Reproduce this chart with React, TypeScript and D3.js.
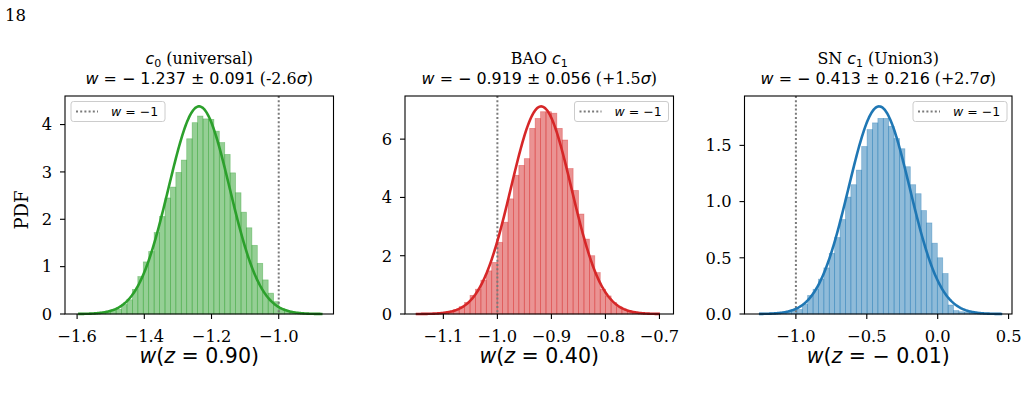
import { scaleLinear, line, max, range, format } from "d3";

// posterior samples of w at three redshifts, histogram heights
const colors = ["#2ca02c", "#d62728", "#1f77b4"];
const means = [-1.237, -0.919, -0.413];
const sigmas = [0.091, 0.056, 0.216];
const meanLabels = ["1.237", "0.919", "0.413"];
const sigmaLabels = ["0.091", "0.056", "0.216"];
const tensionLabels = ["-2.6", "+1.5", "+2.7"];
const zLabels = ["0.90", "0.40", "− 0.01"];

const binStarts = [-1.597, -1.151, -1.26];
const binWidths = [0.01616, 0.01004, 0.0381];

const c0Bins = [
  0.005, 0.01, 0.015, 0.02, 0.04, 0.06, 0.08, 0.1, 0.2, 0.3, 0.52, 0.79, 1.1, 1.32, 1.72,
  2.06, 2.45, 2.68, 2.99, 3.25, 3.7, 4.04, 4.18, 4.12, 4.11, 3.86, 3.62, 3.37, 2.98, 2.56,
  2.15, 1.82, 1.45, 1.07, 0.72, 0.44, 0.26, 0.12, 0.05, 0.03, 0.015, 0.01, 0.005, 0.004, 0.003,
];
const baoBins = [
  0.005, 0.01, 0.015, 0.02, 0.035, 0.05, 0.08, 0.15, 0.25, 0.4, 0.64, 0.85, 1.16, 1.48, 1.77,
  2.46, 3.15, 3.95, 4.76, 5.1, 5.33, 6.37, 6.71, 6.94, 6.94, 6.89, 6.37, 5.97, 4.99, 4.24,
  3.43, 2.57, 2.0, 1.42, 0.85, 0.62, 0.39, 0.25, 0.15, 0.09, 0.05, 0.03, 0.02, 0.01, 0.005,
];
const snBins = [
  0.003, 0.005, 0.008, 0.01, 0.015, 0.02, 0.03, 0.04, 0.085, 0.165, 0.22, 0.31, 0.41, 0.54, 0.68,
  0.84, 1.04, 1.15, 1.28, 1.49, 1.64, 1.7, 1.74, 1.74, 1.67, 1.56, 1.47, 1.31, 1.15, 1.07,
  0.92, 0.81, 0.63, 0.5, 0.36, 0.08, 0.03, 0.02, 0.015, 0.01, 0.008, 0.005, 0.004, 0.003, 0.002,
];
const allBins = [c0Bins, baoBins, snBins];

const xDomains = [
  [-1.636, -0.837],
  [-1.171, -0.674],
  [-1.3625, 0.524],
];
const xTicks = [
  [-1.6, -1.4, -1.2, -1.0],
  [-1.1, -1.0, -0.9, -0.8, -0.7],
  [-1.0, -0.5, 0.0, 0.5],
];
const yTicks = [
  [0, 1, 2, 3, 4],
  [0, 2, 4, 6],
  [0, 0.5, 1.0, 1.5],
];
const yFormats = [".0f", ".0f", ".1f"];
const legendOnLeft = [true, false, false];
const refW = -1;

const SERIF = "'DejaVu Serif', serif";
const SANS = "'DejaVu Sans', sans-serif";

const lefts = [65, 405, 744.5];
const widths = [268.5, 268.5, 267.5];
const top = 96;
const bottom = 314;
const tickFont = 16.3;
const titleFont = 15.9;

function pdf(x: number, mu: number, s: number) {
  return Math.exp(-0.5 * ((x - mu) / s) ** 2) / (s * Math.sqrt(2 * Math.PI));
}

function Title({ i, cx }: { i: number; cx: number }) {
  const sub = i === 0 ? "0" : "1";
  const cText = (
    <>
      <tspan fontFamily={SANS} fontStyle="italic">c</tspan>
      <tspan fontFamily={SANS} fontSize={11} dy={3}>{sub}</tspan>
    </>
  );
  return (
    <g>
      <text x={cx} y={64} textAnchor="middle" fontSize={titleFont} fontFamily={SERIF}>
        {i === 0 && (
          <>
            {cText}
            <tspan dy={-3}> (universal)</tspan>
          </>
        )}
        {i === 1 && (
          <>
            <tspan>BAO </tspan>
            {cText}
          </>
        )}
        {i === 2 && (
          <>
            <tspan>SN </tspan>
            {cText}
            <tspan dy={-3}> (Union3)</tspan>
          </>
        )}
      </text>
      <text x={cx} y={83.5} textAnchor="middle" fontSize={titleFont} fontFamily={SANS}>
        <tspan fontStyle="italic">w</tspan>
        <tspan>{` = − ${meanLabels[i]} ± ${sigmaLabels[i]}`}</tspan>
        <tspan fontFamily={SERIF}>{` (${tensionLabels[i]}`}</tspan>
        <tspan fontStyle="italic">σ</tspan>
        <tspan fontFamily={SERIF}>)</tspan>
      </text>
    </g>
  );
}

function Panel({ i }: { i: number }) {
  const bins = allBins[i];
  const left = lefts[i];
  const right = left + widths[i];
  const x = scaleLinear().domain(xDomains[i]).range([left, right]);
  const start = binStarts[i];
  const bw = binWidths[i];
  const end = start + bins.length * bw;
  const peak = pdf(means[i], means[i], sigmas[i]);
  const ymax = 1.05 * Math.max(peak, max(bins) ?? 0);
  const y = scaleLinear().domain([0, ymax]).range([bottom, top]);
  const curvePts = range(0, 301).map((k) => start + ((end - start) * k) / 300);
  const path = line<number>()
    .x((d) => x(d))
    .y((d) => y(pdf(d, means[i], sigmas[i])))(curvePts);
  const color = colors[i];
  const yf = format(yFormats[i]);
  const xf = format(".1f");
  const cx = (left + right) / 2;
  const legW = 94;
  const legH = 20;
  const legX = legendOnLeft[i] ? left + 6 : right - 5 - legW;
  const legY = top + 5.5;

  return (
    <g>
      <Title i={i} cx={cx} />
      {/* histogram */}
      {bins.map((v, k) => {
        const x0 = x(start + k * bw);
        const x1 = x(start + (k + 1) * bw);
        return (
          <rect
            key={k}
            x={x0}
            y={y(v)}
            width={x1 - x0}
            height={bottom - y(v)}
            fill={color}
            fillOpacity={0.5}
            stroke={color}
            strokeOpacity={0.45}
            strokeWidth={0.7}
          />
        );
      })}
      <line
        x1={x(refW)}
        x2={x(refW)}
        y1={top}
        y2={bottom}
        stroke="#7a7a7a"
        strokeWidth={2}
        strokeDasharray="2 2.2"
      />
      <path d={path ?? ""} fill="none" stroke={color} strokeWidth={2.6} />
      {/* frame */}
      <rect x={left} y={top} width={right - left} height={bottom - top} fill="none" stroke="#000" strokeWidth={1.1} />
      {/* x axis */}
      {xTicks[i].map((t) => (
        <g key={t} transform={`translate(${x(t)},${bottom})`}>
          <line y1={0} y2={5} stroke="#000" strokeWidth={1.1} />
          <text y={28} textAnchor="middle" fontFamily={SERIF} fontSize={tickFont}>
            {xf(t)}
          </text>
        </g>
      ))}
      {/* y axis */}
      {yTicks[i].map((t) => (
        <g key={t} transform={`translate(${left},${y(t)})`}>
          <line x1={0} x2={-5} stroke="#000" strokeWidth={1.1} />
          <text x={-13} y={5.8} textAnchor="end" fontFamily={SERIF} fontSize={tickFont}>
            {yf(t)}
          </text>
        </g>
      ))}
      <text x={cx} y={363} textAnchor="middle" fontFamily={SANS} fontSize={20.5}>
        <tspan fontStyle="italic">w</tspan>
        <tspan>(</tspan>
        <tspan fontStyle="italic">z</tspan>
        <tspan>{` = ${zLabels[i]})`}</tspan>
      </text>
      {/* legend */}
      <rect x={legX} y={legY} width={legW} height={legH} rx={2.5} fill="#fff" fillOpacity={0.8} stroke="#cccccc" strokeWidth={1} />
      <line
        x1={legX + 5}
        x2={legX + 27}
        y1={legY + legH / 2}
        y2={legY + legH / 2}
        stroke="#7a7a7a"
        strokeWidth={2}
        strokeDasharray="2 2.2"
      />
      <text x={legX + 40} y={legY + legH / 2 + 4.3} fontFamily={SANS} fontSize={12.5}>
        <tspan fontStyle="italic">w</tspan>
        <tspan>{" = −1"}</tspan>
      </text>
    </g>
  );
}

export default function App() {
  return (
    <div style={{ position: "absolute", left: 0, top: 0 }}>
      <svg width={1026} height={400} viewBox="0 0 1026 400" style={{ display: "block", background: "#fff" }}>
        <text x={5} y={20.7} fontFamily={SERIF} fontSize={16.5}>
          18
        </text>
        <text
          transform="translate(28,210) rotate(-90)"
          textAnchor="middle"
          fontFamily={SERIF}
          fontSize={18}
        >
          PDF
        </text>
        {[0, 1, 2].map((i) => (
          <Panel key={i} i={i} />
        ))}
      </svg>
    </div>
  );
}
